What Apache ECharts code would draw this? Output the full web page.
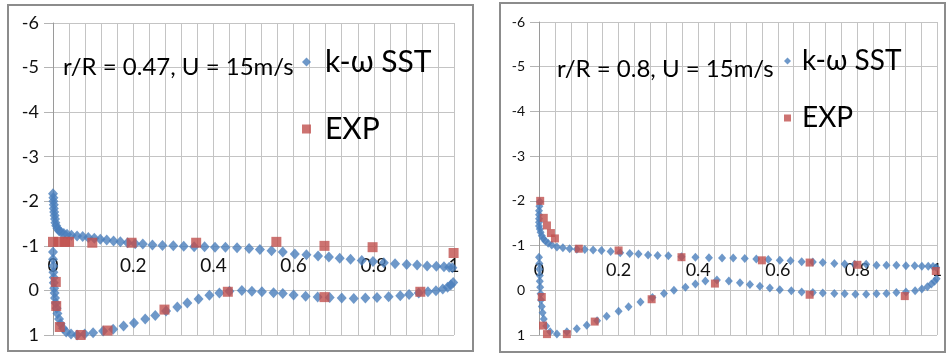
<!DOCTYPE html>
<html>
<head>
<meta charset="utf-8">
<script src="https://cdn.jsdelivr.net/npm/echarts@6/dist/echarts.min.js"></script>
<style>
  html, body { margin: 0; padding: 0; background: #fff; }
  #cpChart { width: 947px; height: 355px; }
</style>
</head>
<body>
<div id="cpChart"></div>
<script>
// axis ticks
const xTicks = [0, 0.2, 0.4, 0.6, 0.8, 1];
const yTicks = [-6, -5, -4, -3, -2, -1, 0, 1];

// r/R = 0.47 : k-ω SST  [x/c, Cp]
const sst047 = [
  [0, -2.17], [0.001, -2.08], [0.001, -2.0], [0.002, -1.92], [0.002, -1.84], [0.003, -1.76],
  [0.004, -1.68], [0.005, -1.6], [0.006, -1.52], [0.008, -1.45], [0.011, -1.39], [0.015, -1.34],
  [0.02, -1.31], [0.027, -1.28], [0.035, -1.26], [0.046, -1.24], [0.06, -1.22], [0.074, -1.21],
  [0.088, -1.19], [0.103, -1.17], [0.118, -1.15], [0.134, -1.13], [0.151, -1.11], [0.168, -1.09],
  [0.186, -1.07], [0.205, -1.05], [0.224, -1.04], [0.248, -1.02], [0.273, -1.01], [0.3, -1.0],
  [0.326, -0.99], [0.352, -0.98], [0.378, -0.98], [0.404, -0.97], [0.43, -0.97], [0.459, -0.96],
  [0.489, -0.94], [0.516, -0.92], [0.545, -0.89], [0.573, -0.86], [0.603, -0.82], [0.632, -0.8],
  [0.661, -0.77], [0.688, -0.75], [0.715, -0.72], [0.742, -0.7], [0.77, -0.67], [0.798, -0.65],
  [0.825, -0.62], [0.853, -0.6], [0.882, -0.58], [0.908, -0.57], [0.933, -0.55], [0.956, -0.54],
  [0.975, -0.53], [0.988, -0.52], [0.996, -0.51], [1.001, -0.49], [1.004, -0.45], [1.005, -0.4],
  [1.005, -0.35], [1.004, -0.3], [1.002, -0.25], [0.998, -0.18], [0.992, -0.12], [0.984, -0.07],
  [0.972, -0.03], [0.955, 0.01], [0.935, 0.03], [0.912, 0.06], [0.888, 0.09], [0.866, 0.12],
  [0.837, 0.14], [0.808, 0.16], [0.779, 0.17], [0.75, 0.18], [0.72, 0.17], [0.69, 0.16],
  [0.66, 0.15], [0.63, 0.13], [0.6, 0.1], [0.573, 0.07], [0.55, 0.05], [0.521, 0.03],
  [0.496, 0.02], [0.471, 0.0], [0.44, 0.02], [0.415, 0.06], [0.39, 0.11], [0.363, 0.19],
  [0.335, 0.28], [0.31, 0.37], [0.282, 0.46], [0.255, 0.56], [0.23, 0.64], [0.202, 0.73],
  [0.176, 0.8], [0.15, 0.87], [0.125, 0.91], [0.1, 0.95], [0.079, 0.98], [0.06, 1.0],
  [0.045, 0.98], [0.033, 0.93], [0.025, 0.85], [0.019, 0.75], [0.015, 0.64], [0.011, 0.52],
  [0.009, 0.4], [0.007, 0.28], [0.005, 0.17], [0.004, 0.06], [0.003, -0.05], [0.002, -0.17],
  [0.002, -0.29], [0.001, -0.41], [0.001, -0.55], [0, -0.7], [0, -0.86]
];
// r/R = 0.47 : EXP
const exp047 = [
  [0.0, -1.09], [0.015, -1.09], [0.03, -1.09], [0.04, -1.09], [0.098, -1.07], [0.196, -1.07],
  [0.357, -1.07], [0.557, -1.09], [0.677, -1.0], [0.797, -0.97], [0.999, -0.84], [0.916, 0.03],
  [0.677, 0.15], [0.436, 0.03], [0.278, 0.43], [0.136, 0.9], [0.069, 1.0], [0.017, 0.82],
  [0.008, 0.35], [0.007, -0.19]
];

// r/R = 0.8 : k-ω SST
const sst08 = [
  [0.002, -1.98], [0.001, -1.88], [0.0, -1.78], [0.0, -1.69], [0.0, -1.6], [0.0, -1.52],
  [0.0, -1.44], [0.002, -1.37], [0.004, -1.3], [0.007, -1.22], [0.011, -1.15], [0.016, -1.1],
  [0.023, -1.05], [0.032, -1.01], [0.045, -0.97], [0.06, -0.95], [0.077, -0.93], [0.095, -0.92],
  [0.115, -0.91], [0.136, -0.9], [0.157, -0.89], [0.18, -0.87], [0.204, -0.84], [0.228, -0.82],
  [0.25, -0.81], [0.274, -0.79], [0.298, -0.78], [0.325, -0.77], [0.358, -0.75], [0.393, -0.74],
  [0.427, -0.73], [0.46, -0.72], [0.488, -0.72], [0.517, -0.71], [0.546, -0.7], [0.576, -0.69],
  [0.605, -0.67], [0.632, -0.66], [0.66, -0.64], [0.688, -0.63], [0.713, -0.62], [0.742, -0.6],
  [0.768, -0.59], [0.793, -0.58], [0.822, -0.58], [0.848, -0.56], [0.873, -0.56], [0.898, -0.56],
  [0.922, -0.55], [0.944, -0.55], [0.962, -0.54], [0.978, -0.54], [0.99, -0.53], [0.998, -0.51],
  [1.002, -0.47], [1.003, -0.42], [1.003, -0.37], [1.002, -0.32], [0.999, -0.26], [0.994, -0.2],
  [0.986, -0.14], [0.976, -0.08], [0.962, -0.03], [0.945, 0.01], [0.922, 0.04], [0.898, 0.05],
  [0.873, 0.07], [0.848, 0.08], [0.822, 0.09], [0.795, 0.09], [0.768, 0.08], [0.742, 0.07],
  [0.713, 0.06], [0.688, 0.05], [0.66, 0.04], [0.634, 0.01], [0.605, -0.01], [0.58, -0.05],
  [0.555, -0.09], [0.53, -0.13], [0.505, -0.17], [0.477, -0.21], [0.447, -0.23], [0.418, -0.21],
  [0.393, -0.14], [0.368, -0.07], [0.339, 0.0], [0.314, 0.07], [0.285, 0.16], [0.255, 0.26],
  [0.225, 0.37], [0.2, 0.47], [0.17, 0.58], [0.146, 0.68], [0.12, 0.78], [0.095, 0.86],
  [0.07, 0.93], [0.045, 0.98], [0.028, 0.93], [0.018, 0.8], [0.012, 0.64], [0.009, 0.5],
  [0.007, 0.36], [0.005, 0.22], [0.004, 0.08], [0.003, -0.07], [0.002, -0.2], [0.002, -0.33],
  [0.001, -0.47], [0.001, -0.6], [0.0, -0.74]
];
// r/R = 0.8 : EXP
const exp08 = [
  [0.003, -2.0], [0.012, -1.62], [0.02, -1.45], [0.03, -1.28], [0.04, -1.16], [0.1, -0.93],
  [0.2, -0.89], [0.358, -0.74], [0.56, -0.67], [0.68, -0.62], [0.8, -0.57], [0.997, -0.43],
  [0.919, 0.13], [0.68, 0.1], [0.442, -0.15], [0.283, 0.2], [0.14, 0.7], [0.07, 0.98],
  [0.02, 0.98], [0.01, 0.79], [0.007, 0.15]
];

const FONT = "Lato, 'Open Sans', sans-serif";
const BLUE = '#4a7ebb';
const RED = '#c0504d';

function xAxisOf(gridIndex, fs, margin) {
  return {
    type: 'value',
    gridIndex: gridIndex,
    position: 'bottom',
    min: xTicks[0],
    max: xTicks[xTicks.length - 1],
    interval: xTicks[1] - xTicks[0],
    // labels pushed up so they sit just above the Cp = 0 line, like the Excel original
    axisLine: { show: false, onZero: false },
    axisTick: { show: false },
    axisLabel: { inside: true, margin: margin, color: '#111', fontSize: fs, fontFamily: FONT },
    splitLine: { show: true, lineStyle: { color: '#c4c4c4', width: 1 } },
    minorTick: { show: false, splitNumber: 5 },
    minorSplitLine: { show: true, lineStyle: { color: '#c4c4c4', width: 1 } }
  };
}

function yAxisOf(gridIndex, fs, margin) {
  return {
    type: 'value',
    gridIndex: gridIndex,
    inverse: true,
    min: yTicks[0],
    max: yTicks[yTicks.length - 1],
    interval: 1,
    axisLine: { show: true, onZero: false, lineStyle: { color: '#9a9a9a', width: 1 } },
    axisTick: { show: true, length: 9, lineStyle: { color: '#b4b4b4' } },
    axisLabel: { margin: margin, color: '#111', fontSize: fs, fontFamily: FONT },
    splitLine: { show: true, lineStyle: { color: '#c4c4c4', width: 1 } }
  };
}

let myChart = echarts.init(document.getElementById('cpChart'));
myChart.setOption({
  animation: false,
  backgroundColor: '#fff',
  grid: [
    { left: 53, top: 23, width: 401, height: 312, outerBoundsMode: 'none', containLabel: false },
    { left: 539, top: 22, width: 398, height: 313, outerBoundsMode: 'none', containLabel: false }
  ],
  xAxis: [xAxisOf(0, 19, 60), xAxisOf(1, 18, 56)],
  yAxis: [yAxisOf(0, 18, 14), yAxisOf(1, 14, 14)],
  title: [
    { text: 'r/R = 0.47, U = 15m/s', left: 58, top: 50,
      textStyle: { fontSize: 24, fontWeight: 'normal', color: '#000', fontFamily: FONT } },
    { text: 'r/R = 0.8, U = 15m/s', left: 552, top: 52,
      textStyle: { fontSize: 24, fontWeight: 'normal', color: '#000', fontFamily: FONT } }
  ],
  legend: [
    { orient: 'vertical', left: 297, top: 42, itemGap: 37, itemWidth: 9, itemHeight: 9,
      data: ['k-ω SST', 'EXP'],
      textStyle: { fontSize: 30, color: '#000', fontFamily: FONT, padding: [0, 0, 0, 9] } },
    { orient: 'vertical', left: 779, top: 42, itemGap: 29, itemWidth: 7, itemHeight: 7,
      data: ['k-ω SST', 'EXP'],
      textStyle: { fontSize: 28, color: '#000', fontFamily: FONT, padding: [0, 0, 0, 6] } }
  ],
  graphic: [
    { type: 'rect', shape: { x: 8, y: 5, width: 465, height: 346 },
      style: { fill: null, stroke: '#8c8c8c', lineWidth: 2 } },
    { type: 'rect', shape: { x: 500, y: 3, width: 445, height: 349 },
      style: { fill: null, stroke: '#8c8c8c', lineWidth: 2 } }
  ],
  series: [
    { name: 'k-ω SST', type: 'scatter', xAxisIndex: 0, yAxisIndex: 0, symbol: 'diamond',
      symbolSize: [10, 11], itemStyle: { color: BLUE }, data: sst047, z: 2 },
    { name: 'EXP', type: 'scatter', xAxisIndex: 0, yAxisIndex: 0, symbol: 'rect',
      symbolSize: 10, itemStyle: { color: RED }, data: exp047, z: 3 },
    { name: 'k-ω SST', type: 'scatter', xAxisIndex: 1, yAxisIndex: 1, symbol: 'diamond',
      symbolSize: [8, 9], itemStyle: { color: BLUE }, data: sst08, z: 2 },
    { name: 'EXP', type: 'scatter', xAxisIndex: 1, yAxisIndex: 1, symbol: 'rect',
      symbolSize: 8, itemStyle: { color: RED }, data: exp08, z: 3 }
  ]
});
</script>
</body>
</html>
